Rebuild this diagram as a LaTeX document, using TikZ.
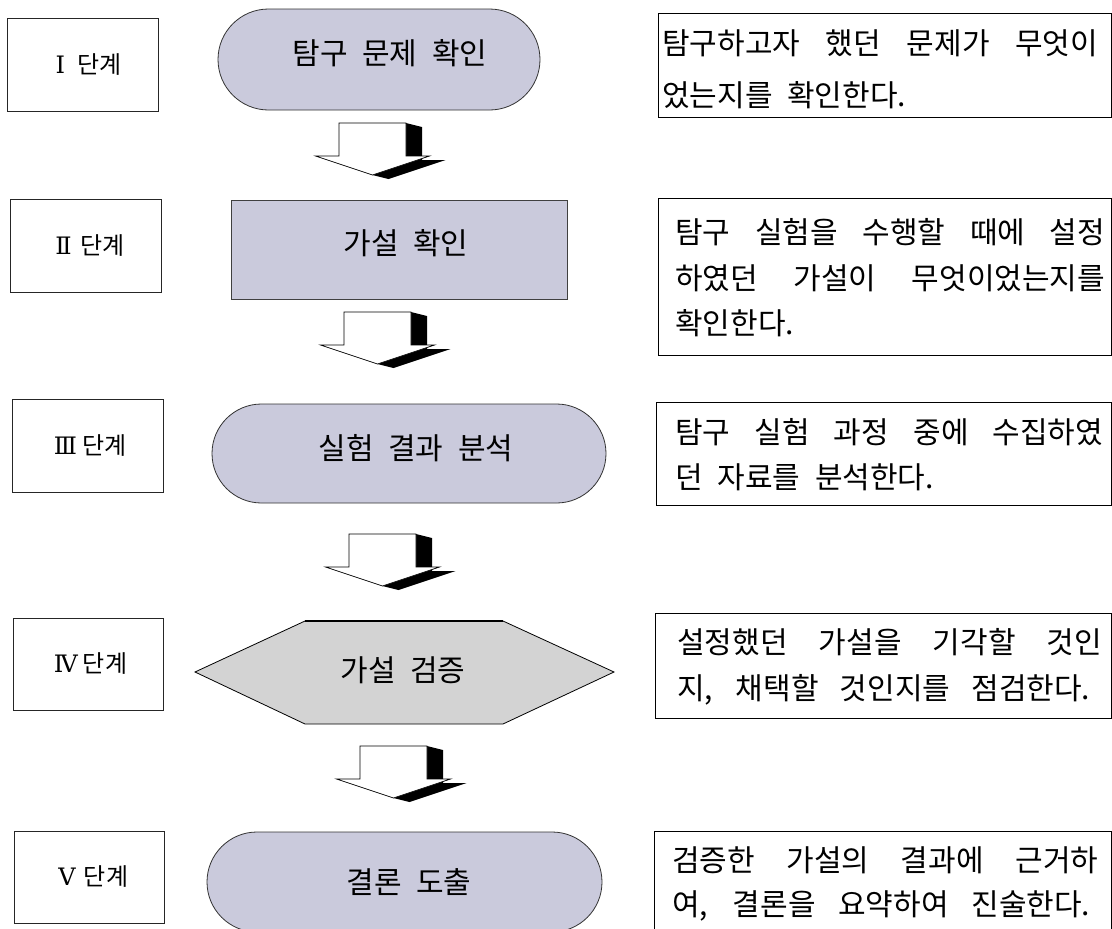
\documentclass[tikz,border=0pt]{standalone}
\usepackage{fontspec}
\newfontfamily\kr[WordSpace=2.2]{Noto Sans CJK KR}
\newfontfamily\rn{DejaVu Serif}
\usetikzlibrary{shapes.misc}
\definecolor{lav}{RGB}{202,202,220}
\definecolor{hexg}{RGB}{211,211,211}
\newcommand{\rnum}[1]{\makebox[34pt]{\rn\fontsize{24}{28}\selectfont #1}}
\newcommand{\blkarrow}[3]{%
  \coordinate (#1) at (#2,#3);
  \begin{scope}[shift={(#1)}]
    \fill[black] (67,0) -- (83,4) -- (83,37) -- (106.5,37) -- (49.5,56) -- (33.5,52) -- (90.5,33) -- (67,33) -- cycle;
    \draw[fill=white, line width=0.7pt, line join=miter] (0,0) -- (67,0) -- (67,33) -- (90.5,33) -- (33.5,52) -- (-23.5,33) -- (0,33) -- cycle;
  \end{scope}}
\begin{document}
\begin{tikzpicture}[x=1pt,y=-1pt,
  stage/.style={draw=black!85, line width=0.8pt, minimum width=151pt, minimum height=93pt, inner sep=0pt, font=\kr\fontsize{24}{28}\selectfont},
  pill/.style={rounded rectangle, draw=black!80, line width=0.8pt, fill=lav, inner sep=0pt},
  procbox/.style={rectangle, draw=black!75, line width=0.8pt, fill=lav, inner sep=0pt},
  lbl/.style={anchor=base, inner sep=0pt, font=\kr\fontsize{30}{34}\selectfont},
  tbox/.style={rectangle, draw=black, line width=1pt, inner sep=0pt},
  txt/.style={anchor=base west, inner sep=0pt, font=\kr\fontsize{30}{34}\selectfont}]
\clip (0,0) rectangle (1112,929);
\fill[white] (0,0) rectangle (1112,929);

% stage boxes
\node[stage] (b1) at (82.5,65) {\rnum{Ⅰ}단계};
\node[stage] (b2) at (85.5,245.5) {\rnum{Ⅱ}단계};
\node[stage] (b3) at (87.5,445.5) {\rnum{Ⅲ}단계};
\node[stage, minimum width=150pt, minimum height=92pt] (b4) at (88,664) {\rnum{Ⅳ}단계};
\node[stage, minimum width=150pt, minimum height=92pt] (b5) at (89,877) {\rnum{Ⅴ}단계};

% process shapes
\node[pill, minimum width=322pt, minimum height=101pt] (s1) at (379,59.5) {};
\node[procbox, minimum width=336pt, minimum height=99pt] (s2) at (399,249.5) {};
\node[pill, minimum width=394pt, minimum height=99pt] (s3) at (409,453.5) {};
\fill[hexg] (195,672) -- (305,621) -- (503,621) -- (614,672) -- (503,724) -- (305,724) -- cycle;
\draw[line width=0.8pt, line join=miter] (305,621) -- (195,672) -- (305,724) -- (503,724) -- (614,672) -- (503,621);
\draw[line width=2pt] (305,621) -- (503,621);
\node[pill, minimum width=395pt, minimum height=100pt] (s5) at (404.5,882) {};

\node[lbl] (l1) at (390,64) {탐구 문제 확인};
\node[lbl] (l2) at (406,254) {가설 확인};
\node[lbl] (l3) at (416,459) {실험 결과 분석};
\node[lbl] (l4) at (403,681) {가설 검증};
\node[lbl] (l5) at (409,893) {결론 도출};

% block arrows
\blkarrow{a1}{339}{123}
\blkarrow{a2}{344}{312}
\blkarrow{a3}{349}{534}
\blkarrow{a4}{360}{746}

% description boxes
\node[tbox, minimum width=453pt, minimum height=104pt] (d1) at (884.5,65) {};
\node[tbox, minimum width=453pt, minimum height=157pt] (d2) at (884.5,276.5) {};
\node[tbox, minimum width=455pt, minimum height=103pt] (d3) at (883.5,453.5) {};
\node[tbox, minimum width=456pt, minimum height=105pt] (d4) at (883,665.5) {};
\node[tbox, minimum width=457pt, minimum height=104pt] (d5) at (882.5,883) {};

\node[txt] (d1a) at (662,54) {\makebox[436pt][s]{탐구하고자 했던 문제가 무엇이}};
\node[txt] (d1b) at (662,106) {었는지를 확인한다.};
\node[txt] (d2a) at (675,243) {\makebox[430pt][s]{탐구 실험을 수행할 때에 설정}};
\node[txt] (d2b) at (675,289) {\makebox[430pt][s]{하였던 가설이 무엇이었는지를}};
\node[txt] (d2c) at (675,334) {확인한다.};
\node[txt] (d3a) at (675,443) {\makebox[428pt][s]{탐구 실험 과정 중에 수집하였}};
\node[txt] (d3b) at (675,488) {던 자료를 분석한다.};
\node[txt] (d4a) at (677,653) {\makebox[425pt][s]{설정했던 가설을 기각할 것인}};
\node[txt] (d4b) at (677,699) {\makebox[413pt][s]{지, 채택할 것인지를 점검한다.}};
\node[txt] (d5a) at (672,871) {\makebox[426pt][s]{검증한 가설의 결과에 근거하}};
\node[txt] (d5b) at (672,915) {\makebox[418pt][s]{여, 결론을 요약하여 진술한다.}};
\end{tikzpicture}
\end{document}
